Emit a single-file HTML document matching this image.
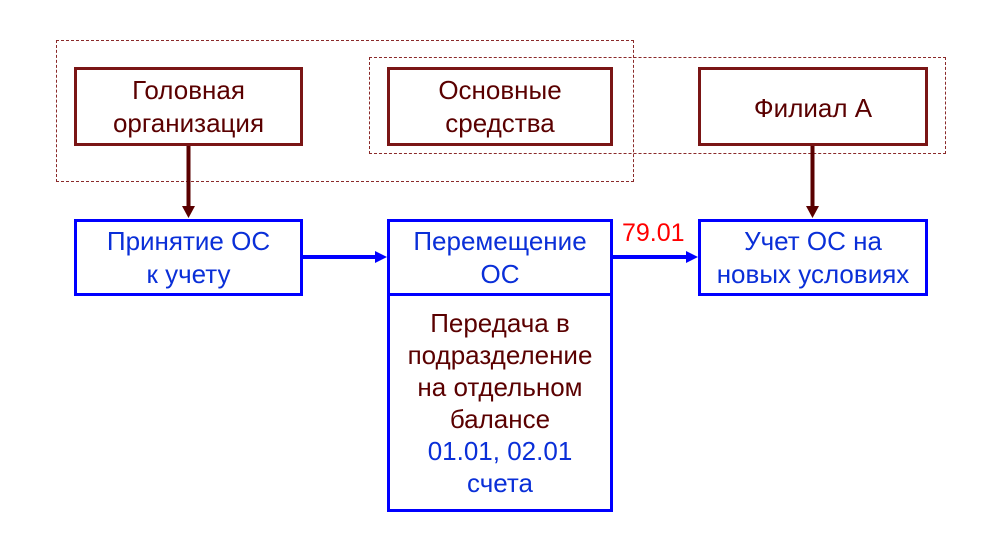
<!DOCTYPE html>
<html><head><meta charset="utf-8"><style>
body{margin:0;background:#fff;width:996px;height:549px;overflow:hidden;position:relative;font-family:"Liberation Sans",sans-serif}
.b{position:absolute;box-sizing:border-box;display:flex;align-items:center;justify-content:center;text-align:center;font-size:26px;line-height:33px}
.r{border:3px solid #7a1515;color:#5a0000}
.u{border:3px solid #0000ff;color:#0a2fd8}
.d{position:absolute;box-sizing:border-box;border:1.5px dashed #8a2a2a}
</style></head><body>
<div class="d" style="left:56px;top:40px;width:578px;height:142px"></div>
<div class="d" style="left:369px;top:57px;width:577px;height:97px"></div>
<div class="b r" style="left:74px;top:67px;width:229px;height:79px">Головная<br>организация</div>
<div class="b r" style="left:387px;top:67px;width:226px;height:79px">Основные<br>средства</div>
<div class="b r" style="left:698px;top:67px;width:230px;height:79px;padding-top:4px">Филиал А</div>
<div class="b u" style="left:74px;top:219px;width:229px;height:77px">Принятие ОС<br>к учету</div>
<div class="b u" style="left:387px;top:219px;width:226px;height:77px">Перемещение<br>ОС</div>
<div class="b u" style="left:387px;top:293px;width:226px;height:219px;flex-direction:column;line-height:32px"><span style="color:#5a0000">Передача в<br>подразделение<br>на отдельном<br>балансе</span><span>01.01, 02.01<br>счета</span></div>
<div class="b u" style="left:698px;top:219px;width:230px;height:77px">Учет ОС на<br>новых условиях</div>
<div style="position:absolute;left:622px;top:219px;font-size:25px;color:#ff0000">79.01</div>
<svg width="996" height="549" style="position:absolute;left:0;top:0">
<line x1="188.5" y1="146" x2="188.5" y2="208" stroke="#5a0000" stroke-width="4"/>
<polygon points="182,206 195,206 188.5,218" fill="#5a0000"/>
<line x1="812.5" y1="146" x2="812.5" y2="208" stroke="#5a0000" stroke-width="4"/>
<polygon points="806,206 819,206 812.5,218" fill="#5a0000"/>
<line x1="303" y1="257" x2="376" y2="257" stroke="#0000ff" stroke-width="4"/>
<polygon points="375,251 375,263 387,257" fill="#0000ff"/>
<line x1="613" y1="257" x2="687" y2="257" stroke="#0000ff" stroke-width="4"/>
<polygon points="686,251 686,263 698,257" fill="#0000ff"/>
</svg>
</body></html>
